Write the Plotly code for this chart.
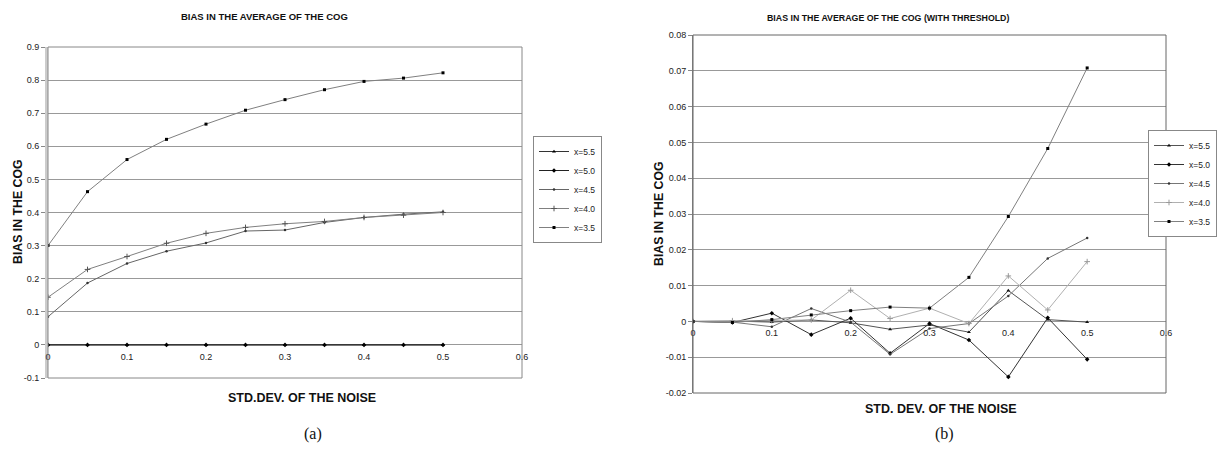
import plotly.graph_objects as go

W, H = 1217, 453

# ---------------- data ----------------
noise = [0, 0.05, 0.1, 0.15, 0.2, 0.25, 0.3, 0.35, 0.4, 0.45, 0.5]
names = ["x=5.5", "x=5.0", "x=4.5", "x=4.0", "x=3.5"]

# (a) bias in the average of the COG
a_55 = [0.0, 0.0, 0.0, 0.0, 0.0, 0.0, 0.0, 0.0, 0.0, 0.0, 0.0]
a_50 = [0.0, 0.0, 0.0, 0.0, 0.0, 0.0, 0.0, 0.0, 0.0, 0.0, 0.0]
a_45 = [0.085, 0.187, 0.246, 0.283, 0.308, 0.344, 0.347, 0.370, 0.385, 0.395, 0.402]
a_40 = [0.144, 0.228, 0.267, 0.307, 0.337, 0.355, 0.366, 0.373, 0.385, 0.392, 0.400]
a_35 = [0.300, 0.463, 0.560, 0.621, 0.667, 0.709, 0.741, 0.771, 0.796, 0.806, 0.822]

# (b) bias in the average of the COG (with threshold)
b_55 = [0.0, 0.0001, -0.0002, 0.0004, -0.0004, -0.0022, -0.0010, -0.0030, 0.0086, 0.0005, -0.0002]
b_50 = [0.0, -0.0003, 0.0023, -0.0037, 0.0009, -0.0089, -0.0006, -0.0052, -0.0155, 0.0010, -0.0106]
b_45 = [0.0, -0.0002, -0.0015, 0.0036, -0.0002, -0.0092, -0.0020, -0.0006, 0.0071, 0.0176, 0.0233]
b_40 = [0.0, 0.0002, 0.0002, 0.0004, 0.0087, 0.0008, 0.0037, -0.0006, 0.0127, 0.0032, 0.0167]
b_35 = [0.0, -0.0003, 0.0005, 0.0018, 0.0030, 0.0040, 0.0037, 0.0123, 0.0293, 0.0483, 0.0708]

x_ticks = [0, 0.1, 0.2, 0.3, 0.4, 0.5, 0.6]
x_ticktext = ["0", "0.1", "0.2", "0.3", "0.4", "0.5", "0.6"]
a_yticks = [-0.1, 0, 0.1, 0.2, 0.3, 0.4, 0.5, 0.6, 0.7, 0.8, 0.9]
a_yticktext = ["-0.1", "0", "0.1", "0.2", "0.3", "0.4", "0.5", "0.6", "0.7", "0.8", "0.9"]
b_yticks = [-0.02, -0.01, 0, 0.01, 0.02, 0.03, 0.04, 0.05, 0.06, 0.07, 0.08]
b_yticktext = ["-0.02", "-0.01", "0", "0.01", "0.02", "0.03", "0.04", "0.05", "0.06", "0.07", "0.08"]

# ---------------- styles ----------------
a_styles = [
    dict(line="#333333", sym="triangle-up", mcol="#000000", size=3.5),
    dict(line="#222222", sym="diamond", mcol="#000000", size=3.5),
    dict(line="#666666", sym="circle", mcol="#333333", size=2.5),
    dict(line="#808080", sym="cross-thin", mcol="#555555", size=4),
    dict(line="#808080", sym="square", mcol="#000000", size=3),
]
b_styles = [
    dict(line="#555555", sym="triangle-up", mcol="#111111", size=3.5),
    dict(line="#333333", sym="diamond", mcol="#000000", size=3.5),
    dict(line="#777777", sym="circle", mcol="#333333", size=2.5),
    dict(line="#b0b0b0", sym="cross-thin", mcol="#999999", size=4),
    dict(line="#808080", sym="square", mcol="#000000", size=3),
]

fig = go.Figure()


def add_series(ys, name, st, xa, ya, leg):
    marker = dict(symbol=st["sym"], size=st["size"], color=st["mcol"])
    if st["sym"] == "cross-thin":
        marker["line"] = dict(color=st["mcol"], width=1)
    fig.add_trace(go.Scatter(
        x=noise, y=ys, name=name, mode="lines+markers",
        line=dict(color=st["line"], width=1),
        marker=marker, xaxis=xa, yaxis=ya, legend=leg,
    ))


for ys, nm, st in zip([a_55, a_50, a_45, a_40, a_35], names, a_styles):
    add_series(ys, nm, st, "x", "y", "legend")
for ys, nm, st in zip([b_55, b_50, b_45, b_40, b_35], names, b_styles):
    add_series(ys, nm, st, "x2", "y2", "legend2")

# ---------------- layout (pixel geometry) ----------------
def px_x(p):
    return p / W


def px_y(p):
    return 1 - p / H


a_left, a_right, a_top, a_bot = 48, 522, 47, 378
b_left, b_right, b_top, b_bot = 693, 1166, 35, 393
a_zero = 345.3
b_zero = 321.3

tickfont = dict(family="Liberation Sans, Arial, sans-serif", size=9, color="#222222")
legfont = dict(family="Liberation Sans, Arial, sans-serif", size=8.5, color="#222222")

fig.update_layout(
    width=W, height=H,
    margin=dict(l=0, r=0, t=0, b=0, autoexpand=False),
    paper_bgcolor="white", plot_bgcolor="white",
    showlegend=True,
    xaxis=dict(domain=[px_x(a_left), px_x(a_right)], range=[0, 0.6],
               anchor="free", position=px_y(a_zero),
               tickvals=x_ticks, ticktext=x_ticktext, showgrid=False, zeroline=False,
               ticks="outside", ticklen=3, tickcolor="rgba(0,0,0,0)",
               tickfont=tickfont, showline=False),
    yaxis=dict(domain=[px_y(a_bot), px_y(a_top)], range=[-0.1, 0.9], anchor="x",
               tickvals=a_yticks, ticktext=a_yticktext,
               showgrid=True, gridcolor="#999999", gridwidth=1, zeroline=False,
               ticks="outside", ticklen=4, tickcolor="#888888",
               showline=True, linecolor="#cccccc", linewidth=3,
               tickfont=tickfont),
    xaxis2=dict(domain=[px_x(b_left), px_x(b_right)], range=[0, 0.6],
                anchor="free", position=px_y(b_zero),
                tickvals=x_ticks, ticktext=x_ticktext, showgrid=False, zeroline=False,
                ticks="outside", ticklen=3, tickcolor="rgba(0,0,0,0)",
                tickfont=tickfont, showline=False),
    yaxis2=dict(domain=[px_y(b_bot), px_y(b_top)], range=[-0.02, 0.08], anchor="x2",
                tickvals=b_yticks, ticktext=b_yticktext,
                showgrid=True, gridcolor="#999999", gridwidth=1, zeroline=False,
                ticks="outside", ticklen=4, tickcolor="#888888",
                showline=True, linecolor="#888888", linewidth=1,
                tickfont=tickfont),
    legend=dict(x=px_x(533), y=px_y(136), xanchor="left", yanchor="top",
                bgcolor="white", bordercolor="#888888", borderwidth=1,
                font=legfont, tracegroupgap=0, itemwidth=30),
    legend2=dict(x=1.0, y=px_y(130), xanchor="right", yanchor="top",
                 bgcolor="white", bordercolor="#888888", borderwidth=1,
                 font=legfont, tracegroupgap=0, itemwidth=30),
)

# plot-area borders
fig.add_shape(type="rect", xref="x domain", yref="y domain", x0=0, x1=1, y0=0, y1=1,
              line=dict(color="#888888", width=1), layer="above")
fig.add_shape(type="rect", xref="x2 domain", yref="y2 domain", x0=0, x1=1, y0=0, y1=1,
              line=dict(color="#666666", width=1), layer="above")

bold = dict(family="Liberation Sans, Arial, sans-serif", color="#111111")
serif = dict(family="Liberation Serif, Times New Roman, serif", size=16, color="#111111")


def ann(text, x, y, size=None, angle=0, font=None):
    f = dict(font or bold)
    if size:
        f["size"] = size
    fig.add_annotation(text=text, x=px_x(x), y=px_y(y), xref="paper", yref="paper",
                       showarrow=False, textangle=angle, font=f,
                       xanchor="center", yanchor="middle")


ann("<b>BIAS IN THE AVERAGE OF THE COG</b>", 264.5, 16.5, size=9.5)
ann("<b>BIAS IN THE AVERAGE OF THE COG (WITH THRESHOLD)</b>", 888, 18, size=8.8)
ann("<b>BIAS IN THE COG</b>", 18, 212, size=12.3, angle=-90)
ann("<b>BIAS IN THE COG</b>", 659, 214, size=12.3, angle=-90)
ann("<b>STD.DEV. OF THE NOISE</b>", 302, 398, size=12.5)
ann("<b>STD. DEV. OF THE NOISE</b>", 941, 409, size=12.5)
ann("(a)", 313, 434, font=serif)
ann("(b)", 944, 434, font=serif)

fig.write_html(
    "out.html",
    config={"displayModeBar": False},
    post_script="document.body.style.margin='0';document.body.style.overflow='hidden';",
)
